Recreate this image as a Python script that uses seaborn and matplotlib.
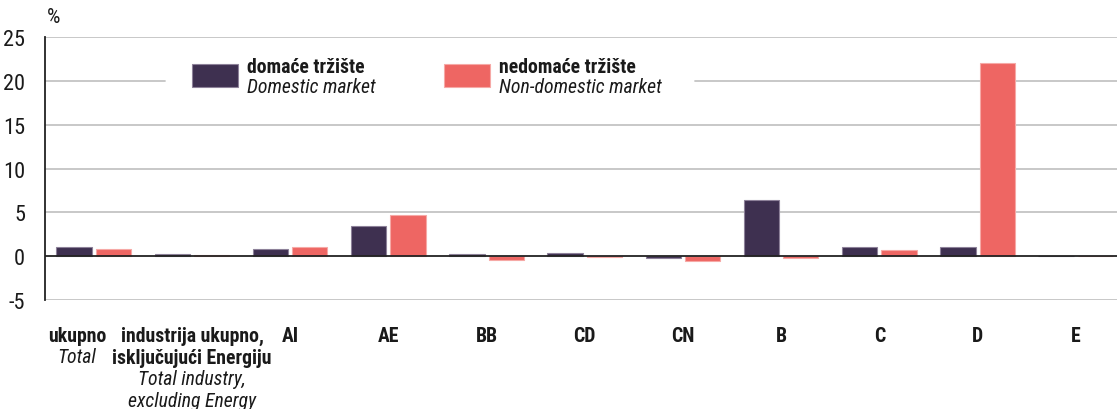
import matplotlib
matplotlib.use("Agg")
from matplotlib import pyplot as plt
from matplotlib import transforms
from matplotlib import font_manager as fm
from matplotlib.patches import Patch
import pandas as pd
import seaborn as sns

# data (%)
categories = ["ukupno", "industrija", "AI", "AE", "BB", "CD", "CN", "B", "C", "D", "E"]
label_bold = ["ukupno", "industrija ukupno,\nisključujući Energiju", "AI", "AE", "BB",
              "CD", "CN", "B", "C", "D", "E"]
label_italic = ["Total", "Total industry,\nexcluding Energy", "", "", "", "", "", "", "", "", ""]
domestic = [1.1, 0.25, 0.8, 3.4, 0.25, 0.35, -0.25, 6.4, 1.1, 1.0, 0.0]
non_domestic = [0.8, 0.1, 1.0, 4.7, -0.4, -0.1, -0.55, -0.2, 0.7, 22.1, 0.0]
series_hr = ["domaće tržište", "nedomaće tržište"]
series_en = ["Domestic market", "Non-domestic market"]
y_ticks = [-5, 0, 5, 10, 15, 20, 25]

colors = ["#3e3050", "#ee6663"]
edges = ["#8d8199", "#f6a9a6"]

df = pd.DataFrame({
    "category": categories * 2,
    "value": domestic + non_domestic,
    "series": [series_hr[0]] * len(categories) + [series_hr[1]] * len(categories),
})

sns.set_style("white")

# the reference uses a condensed sans; pick the narrowest one that is installed
fonts = fm.fontManager.ttflist
names = {f.name for f in fonts}
stretch = "normal"
if "Liberation Sans Narrow" in names:
    family, scale = "Liberation Sans Narrow", 1.0
elif "Roboto Condensed" in names:
    family, scale = "Roboto Condensed", 0.95
elif any(f.name == "DejaVu Sans" and "condensed" in str(f.stretch) for f in fonts):
    family, scale, stretch = "DejaVu Sans", 0.88, "condensed"
else:
    family, scale = "Liberation Sans", 0.85
plt.rcParams["font.family"] = [family, "DejaVu Sans"]
plt.rcParams["font.stretch"] = stretch
fs = 15 * scale

fig = plt.figure(figsize=(11.17, 4.10), dpi=100)
ax = fig.add_axes([0.040, 0.266, 0.960, 0.641])

sns.barplot(data=df, x="category", y="value", hue="series", order=categories,
            hue_order=series_hr, palette=colors, saturation=1, width=0.8, gap=0.1,
            legend=False, ax=ax, zorder=3)
for cont, ec in zip(ax.containers, edges):
    for bar in cont:
        bar.set_edgecolor(ec)
        bar.set_linewidth(0.8)

ax.set_xlim(-0.5, 10.42)
ax.set_ylim(-5, 25)
ax.set_yticks(y_ticks)
ax.set_yticklabels([str(t) for t in y_ticks], fontsize=17 * scale, color="#1a1a1a")
ax.tick_params(axis="y", length=0, pad=14)
ax.tick_params(axis="x", length=0)
ax.set_xticks(range(len(categories)))
ax.set_xticklabels([""] * len(categories))
ax.set_xlabel("")
ax.set_ylabel("")

# grid lines; the 20 line is interrupted by the legend box
leg_x0, leg_x1 = 0.112, 0.606
for t in y_ticks:
    if t == 20:
        ax.axhline(t, xmax=leg_x0, color="#c4c4c4", lw=1.3, zorder=1)
        ax.axhline(t, xmin=leg_x1, color="#c4c4c4", lw=1.3, zorder=1)
    elif t != 0:
        ax.axhline(t, color="#c4c4c4", lw=1.3, zorder=1)
ax.axhline(0, color="#222222", lw=1.3, zorder=4)
for s in ["top", "right", "bottom"]:
    ax.spines[s].set_visible(False)
ax.spines["left"].set_color("#222222")
ax.spines["left"].set_linewidth(1.3)

# category labels: bold Croatian, italic English underneath
# (the first label sits a little left of its bars in the reference)
label_x = [i for i in range(len(categories))]
label_x[0] = -0.17
trans = transforms.blended_transform_factory(ax.transData, ax.transAxes)
for x, b, it in zip(label_x, label_bold, label_italic):
    tb = ax.text(x, -0.098, b, transform=trans, ha="center", va="top",
                 fontsize=fs, fontweight="bold", linespacing=1.2, color="#1a1a1a")
    if it:
        ax.annotate(it, xy=(0.5, 0), xycoords=tb, xytext=(0, -1.5),
                    textcoords="offset points", ha="center", va="top",
                    fontsize=fs, style="italic", linespacing=1.2, color="#1a1a1a")

# legend swatches, texts placed next to each swatch
handles = [Patch(facecolor=c, edgecolor=e, lw=0.8) for c, e in zip(colors, edges)]
leg = ax.legend(handles, ["", ""], ncol=2, loc="upper left",
                bbox_to_anchor=(0.137, 0.897), borderaxespad=0, frameon=False,
                handlelength=2.45, handleheight=1.5, handletextpad=0,
                columnspacing=11.0, borderpad=0, prop={"size": 13.5})
leg.set_zorder(5)
fig.canvas.draw()
for h, hr, en in zip(leg.legend_handles, series_hr, series_en):
    ax.annotate(hr, xy=(1, 0.5), xycoords=h, xytext=(7, 0), textcoords="offset points",
                ha="left", va="bottom", fontsize=fs, fontweight="bold", color="#1a1a1a")
    ax.annotate(en, xy=(1, 0.5), xycoords=h, xytext=(7, -1), textcoords="offset points",
                ha="left", va="top", fontsize=fs, style="italic", color="#1a1a1a")

fig.text(0.042, 0.935, "%", fontsize=16 * scale, ha="left", va="bottom",
         color="#1a1a1a")

fig.savefig("out.png", dpi=100)
